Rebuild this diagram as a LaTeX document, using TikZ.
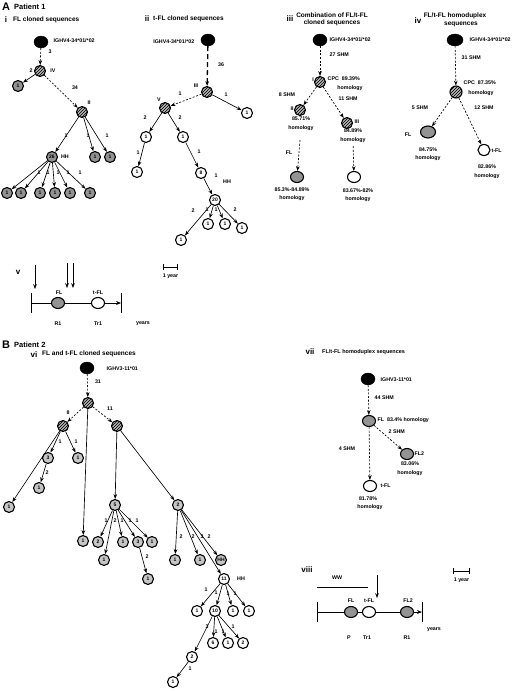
\documentclass[tikz,border=0pt]{standalone}
\usepackage{fontspec}
\setmainfont{Liberation Sans}
\usetikzlibrary{arrows.meta, shapes.geometric, patterns}

\begin{document}
\begin{tikzpicture}[x=1pt, y=-1pt,
		nodo/.style={circle, draw, line width=1.1pt, minimum size=11pt, inner sep=0pt, font=\fontsize{5}{5}\selectfont\bfseries},
		gris/.style={nodo, fill=gray!85},
		grisclaro/.style={nodo, fill=gray!45},
		blanco/.style={nodo, fill=white},
		rayado/.style={nodo, fill=gray!60, postaction={pattern=north east lines}},
		negro/.style={ellipse, draw, fill=black, minimum width=14pt, minimum height=12pt, inner sep=0pt},
		ovalo/.style={ellipse, draw, line width=1.1pt, minimum width=13pt, minimum height=11pt, inner sep=0pt},
		etiq/.style={font=\fontsize{5.3}{6}\selectfont\bfseries, inner sep=0.5pt},
		titulo/.style={font=\fontsize{6.5}{7.5}\selectfont\bfseries, inner sep=0pt, align=center},
		romano/.style={font=\fontsize{8}{9}\selectfont\bfseries, inner sep=0pt},
		letra/.style={font=\fontsize{11}{12}\selectfont\bfseries, inner sep=0pt},
		flecha/.style={-{Stealth[length=4.8pt, width=3.6pt]}, line width=0.65pt},
		discont/.style={flecha, dash pattern=on 2pt off 1.6pt},
		linea/.style={line width=0.9pt}]
	\useasboundingbox (0,0) rectangle (520,691);

	% ---- A: patient 1
	\node[letra, anchor=west] (letA) at (2,7) {A};
	\node[titulo, anchor=west, font=\fontsize{7.5}{8}\selectfont\bfseries] (pac1) at (14,7) {Patient 1};

	% i
	\node[romano] (rI) at (6,20) {i};
	\node[titulo, anchor=west] (tI) at (13,20) {FL cloned sequences};
	\node[negro] (i0) at (41,42) {};
	\node[etiq, anchor=west] (i0t) at (53,41) {IGHV4-34*01/*02};
	\node[rayado] (iIV) at (40,71) {};
	\node[etiq] (iIVt) at (53,71) {IV};
	\node[gris] (i1) at (18,86) {1};
	\node[rayado] (iII) at (82,112) {};
	\node[etiq] (iIIt) at (89,103) {II};
	\node[gris] (iHH) at (52,157) {26};
	\node[etiq] (iHHt) at (65,157) {HH};
	\node[gris] (i2) at (95,157) {1};
	\node[gris] (i3) at (110,157) {1};
	\node[gris] (ib1) at (7,193) {1};
	\node[gris] (ib2) at (21,193) {1};
	\node[gris] (ib3) at (40,193) {1};
	\node[gris] (ib4) at (55,193) {1};
	\node[gris] (ib5) at (70,193) {1};
	\node[gris] (ib6) at (90,193) {1};
	\draw[discont] (i0) -- (iIV);
	\draw[flecha] (iIV) -- (i1);
	\draw[discont] (iIV) -- (iII);
	\draw[flecha] (iII) -- (iHH);
	\draw[flecha] (iII) -- (i2);
	\draw[flecha] (iII) -- (i3);
	\draw[flecha] (iHH) -- (ib1);
	\draw[flecha] (iHH) -- (ib2);
	\draw[flecha] (iHH) -- (ib3);
	\draw[flecha] (iHH) -- (ib4);
	\draw[flecha] (iHH) -- (ib5);
	\draw[flecha] (iHH) -- (ib6);
	\node[etiq] (ie1) at (50,52) {3};
	\node[etiq] (ie2) at (31,71) {2};
	\node[etiq] (ie3) at (75,88) {34};
	\node[etiq] (ie4) at (66,136) {1};
	\node[etiq] (ie5) at (88,136) {1};
	\node[etiq] (ie6) at (107,136) {1};
	\node[etiq] (ie7) at (39,173) {1};
	\node[etiq] (ie8) at (48,173) {1};
	\node[etiq] (ie9) at (58,173) {1};
	\node[etiq] (ie10) at (68,173) {1};
	\node[etiq] (ie11) at (80,173) {1};

	% ii
	\node[romano] (rII) at (147,19) {ii};
	\node[titulo, anchor=west] (tII) at (153,19) {t-FL cloned sequences};
	\node[negro] (ii0) at (208,40) {};
	\node[etiq, anchor=east] (ii0t) at (195,42) {IGHV4-34*01/*02};
	\node[rayado] (iiIII) at (207,92) {};
	\node[etiq] (iiIIIt) at (196,86) {III};
	\node[rayado] (iiV) at (165,108) {};
	\node[etiq] (iiVt) at (159,100) {V};
	\node[blanco] (iia) at (247,113) {1};
	\node[blanco] (iib) at (146,137) {1};
	\node[blanco] (iic) at (183,137) {1};
	\node[blanco] (iid) at (137,172) {1};
	\node[blanco] (ii8) at (201,173) {8};
	\node[blanco] (ii20) at (215,200) {20};
	\node[etiq] (ii20t) at (227,182) {HH};
	\node[blanco] (iie) at (181,240) {1};
	\node[blanco] (iif) at (208,224) {1};
	\node[blanco] (iig) at (225,224) {1};
	\node[blanco] (iih) at (242,228) {1};
	\draw[flecha, line width=1.3pt, dash pattern=on 5pt off 3pt] (ii0) -- (iiIII);
	\draw[discont] (iiIII) -- (iiV);
	\draw[flecha] (iiIII) -- (iia);
	\draw[flecha] (iiV) -- (iib);
	\draw[flecha] (iiV) -- (iic);
	\draw[flecha] (iib) -- (iid);
	\draw[flecha] (iic) -- (ii8);
	\draw[flecha] (ii8) -- (ii20);
	\draw[flecha] (ii20) -- (iie);
	\draw[flecha] (ii20) -- (iif);
	\draw[flecha] (ii20) -- (iig);
	\draw[flecha] (ii20) -- (iih);
	\node[etiq] (iie1) at (221,65) {36};
	\node[etiq] (iie2) at (180,94) {1};
	\node[etiq] (iie3) at (226,95) {1};
	\node[etiq] (iie4) at (145,118) {2};
	\node[etiq] (iie5) at (180,118) {2};
	\node[etiq] (iie6) at (138,153) {1};
	\node[etiq] (iie7) at (199,152) {1};
	\node[etiq] (iie8) at (216,176) {1};
	\node[etiq] (iie9) at (193,211) {2};
	\node[etiq] (iie10) at (207,210) {1};
	\node[etiq] (iie11) at (216,210) {1};
	\node[etiq] (iie12) at (235,210) {2};
	\coordinate (escA1) at (163,267);
	\coordinate (escA2) at (178,267);
	\draw[linea, {Bar[width=6pt]}-{Bar[width=6pt]}] (escA1) -- (escA2);
	\node[etiq] (escAt) at (170.5,276) {1 year};

	% iii
	\node[romano] (rIII) at (290,19) {iii};
	\node[titulo] (tIII) at (332,19.5) {Combination of FL/t-FL\\cloned sequences};
	\node[negro] (iii0) at (320,40) {};
	\node[etiq, anchor=west] (iii0t) at (329,40) {IGHV4-34*01/*02};
	\node[rayado] (iiiI) at (320,82) {};
	\node[etiq] (iiiIt) at (313,80) {I};
	\node[etiq, anchor=west] (iiiCPC) at (327,79) {CPC~~89.39\%};
	\node[etiq] (iiiCPCh) at (350,88) {homology};
	\node[rayado] (iiiII) at (300,110) {};
	\node[etiq] (iiiIIt) at (292,109) {II};
	\node[etiq] (iiiIIp) at (301,119) {85.71\%};
	\node[etiq] (iiiIIh) at (301,128) {homology};
	\node[rayado] (iiiIII) at (347,123) {};
	\node[etiq, anchor=west] (iiiIIIt) at (354,122) {III};
	\node[etiq] (iiiIIIp) at (353,131) {84.89\%};
	\node[etiq] (iiiIIIh) at (353,140) {homology};
	\node[ovalo, fill=gray!85] (iiiFL) at (297,177) {};
	\node[etiq] (iiiFLp) at (292,190) {85.3\%-84.89\%};
	\node[etiq] (iiiFLh) at (292,198) {homology};
	\node[ovalo, fill=white] (iiiT) at (354,177) {};
	\node[etiq] (iiiTp) at (358,191) {83.67\%-82\%};
	\node[etiq] (iiiTh) at (358,199) {homology};
	\draw[discont] (iii0) -- (iiiI);
	\draw[discont] (iiiI) -- (iiiII);
	\draw[discont] (iiiI) -- (iiiIII);
	\draw[discont, shorten <=9pt] (iiiIIh) -- (iiiFL);
	\draw[discont, shorten <=3pt] (iiiIIIh) -- (iiiT);
	\node[etiq, anchor=west] (iiie1) at (329,55) {27 SHM};
	\node[etiq] (iiie2) at (287,95) {8 SHM};
	\node[etiq, anchor=west] (iiie3) at (338,99) {11 SHM};
	\node[etiq] (iiie4) at (289,153) {FL};

	% iv
	\node[romano] (rIV) at (418,21) {iv};
	\node[titulo] (tIV) at (455,20) {FL/t-FL homoduplex\\\hspace*{12pt}sequences};
	\node[negro, minimum width=16pt] (iv0) at (455,40) {};
	\node[etiq, anchor=west] (iv0t) at (469,40) {IGHV4-34*01/*02};
	\node[rayado, minimum size=12pt] (ivCPC) at (456,92) {};
	\node[etiq, anchor=west] (ivCPCt) at (463,83) {CPC~~87.35\%};
	\node[etiq] (ivCPCh) at (481,93) {homology};
	\node[ovalo, fill=gray!85, minimum width=15pt, minimum height=12pt] (ivFL) at (428,132) {};
	\node[etiq] (ivFLt) at (408,135) {FL};
	\node[etiq] (ivFLp) at (428,150) {84.75\%};
	\node[etiq] (ivFLh) at (428,158) {homology};
	\node[ovalo, fill=white, minimum width=12pt] (ivT) at (484,150) {};
	\node[etiq, anchor=west] (ivTt) at (491,151) {t-FL};
	\node[etiq] (ivTp) at (487,167) {82.86\%};
	\node[etiq] (ivTh) at (487,176) {homology};
	\draw[discont] (iv0) -- (ivCPC);
	\draw[discont] (ivCPC) -- (ivFL);
	\draw[discont] (ivCPC) -- (ivT);
	\node[etiq, anchor=west] (ive1) at (461,58) {31 SHM};
	\node[etiq] (ive2) at (420,108) {5 SHM};
	\node[etiq] (ive3) at (484,108) {12 SHM};

	% v
	\node[romano] (rV) at (18,272) {v};
	\coordinate (vF1a) at (35,265);
	\coordinate (vF1b) at (35,289);
	\coordinate (vF2a) at (67,263);
	\coordinate (vF2b) at (67,288);
	\coordinate (vF3a) at (73,263);
	\coordinate (vF3b) at (73,288);
	\draw[flecha] (vF1a) -- (vF1b);
	\draw[flecha] (vF2a) -- (vF2b);
	\draw[flecha] (vF3a) -- (vF3b);
	\coordinate (vIni) at (31,303);
	\coordinate (vFin) at (121,303);
	\node[ovalo, fill=gray!85] (vFL) at (58,303) {};
	\node[ovalo, fill=white] (vT) at (98,303) {};
	\draw[linea] ([yshift=10pt]vIni) -- ([yshift=-10pt]vIni);
	\draw[linea] ([yshift=10pt]vFin) -- ([yshift=-10pt]vFin);
	\draw[linea] (vIni) -- (vFL) -- (vT);
	\draw[linea, -{Stealth[length=5pt, width=4pt]}] (vT) -- (vFin);
	\node[etiq] (vFLt) at (59,293) {FL};
	\node[etiq] (vTt) at (98,293) {t-FL};
	\node[etiq] (vR1) at (58,324) {R1};
	\node[etiq] (vTr1) at (98,324) {Tr1};
	\node[etiq] (vyr) at (143,324) {years};

	% ---- B: patient 2
	\node[letra, anchor=west] (letB) at (2,345) {B};
	\node[titulo, anchor=west, font=\fontsize{7.5}{8}\selectfont\bfseries] (pac2) at (14,345) {Patient 2};

	% vi
	\node[romano] (rVI) at (34,355) {vi};
	\node[titulo, anchor=west] (tVI) at (42,354) {FL and t-FL cloned sequences};
	\node[negro] (vi0) at (87,368) {};
	\node[etiq, anchor=west] (vi0t) at (106,369) {IGHV3-11*01};
	\node[rayado] (viA) at (88,403) {};
	\node[rayado] (viB) at (63,426) {};
	\node[rayado] (viC) at (117,426) {};
	\node[grisclaro] (viD) at (83,541) {1};
	\node[grisclaro] (viB1) at (9,507) {1};
	\node[grisclaro] (viB2) at (48,458) {3};
	\node[grisclaro] (viB3) at (78,458) {1};
	\node[grisclaro] (viB4) at (39,488) {1};
	\node[grisclaro] (vi5) at (115,505) {5};
	\node[grisclaro] (vi5a) at (98,542) {2};
	\node[grisclaro] (vi5b) at (104,560) {1};
	\node[grisclaro] (vi5c) at (123,542) {1};
	\node[grisclaro] (vi5d) at (138,542) {3};
	\node[grisclaro] (vi5e) at (152,542) {1};
	\node[grisclaro] (vi5f) at (148,579) {1};
	\node[grisclaro] (vi2) at (178,505) {2};
	\node[grisclaro] (vi2a) at (175,560) {1};
	\node[grisclaro] (vi2b) at (200,560) {1};
	\node[grisclaro] (vi2c) at (221,560) {HH};
	\node[blanco] (vi11) at (224,579) {11};
	\node[etiq] (vi11t) at (241,579) {HH};
	\node[blanco] (vi11a) at (197,611) {1};
	\node[blanco] (vi10) at (215,611) {10};
	\node[blanco] (vi11b) at (233,611) {1};
	\node[blanco] (vi11c) at (249,611) {1};
	\node[blanco] (vi10a) at (192,657) {2};
	\node[blanco] (vi10b) at (213,643) {6};
	\node[blanco] (vi10c) at (228,643) {1};
	\node[blanco] (vi10d) at (243,643) {2};
	\node[blanco] (vi10e) at (173,682) {1};
	\draw[discont] (vi0) -- (viA);
	\draw[discont] (viA) -- (viB);
	\draw[discont] (viA) -- (viC);
	\draw[flecha] (viA) -- (viD);
	\draw[flecha] (viB) -- (viB1);
	\draw[flecha] (viB) -- (viB2);
	\draw[flecha] (viB) -- (viB3);
	\draw[flecha] (viB2) -- (viB4);
	\draw[flecha] (viC) -- (vi5);
	\draw[flecha] (viC) -- (vi2);
	\draw[flecha] (vi5) -- (vi5a);
	\draw[flecha] (vi5) -- (vi5b);
	\draw[flecha] (vi5) -- (vi5c);
	\draw[flecha] (vi5) -- (vi5d);
	\draw[flecha] (vi5) -- (vi5e);
	\draw[flecha] (vi5d) -- (vi5f);
	\draw[flecha] (vi2) -- (vi2a);
	\draw[flecha] (vi2) -- (vi2b);
	\draw[flecha] (vi2) -- (vi2c);
	\draw[flecha] (vi2) -- (vi11);
	\draw[flecha] (vi11) -- (vi11a);
	\draw[flecha] (vi11) -- (vi10);
	\draw[flecha] (vi11) -- (vi11b);
	\draw[flecha] (vi11) -- (vi11c);
	\draw[flecha] (vi10) -- (vi10a);
	\draw[flecha] (vi10) -- (vi10b);
	\draw[flecha] (vi10) -- (vi10c);
	\draw[flecha] (vi10) -- (vi10d);
	\draw[flecha] (vi10a) -- (vi10e);
	\node[etiq] (vie1) at (98,382) {31};
	\node[etiq] (vie2) at (68,413) {8};
	\node[etiq] (vie3) at (110,409) {11};
	\node[etiq] (vie4) at (60,442) {1};
	\node[etiq] (vie5) at (76,442) {1};
	\node[etiq] (vie6) at (47,473) {2};
	\node[etiq] (vie7) at (106,521) {1};
	\node[etiq] (vie8) at (115,521) {2};
	\node[etiq] (vie9) at (122,521) {1};
	\node[etiq] (vie10) at (130,521) {1};
	\node[etiq] (vie11) at (137,521) {1};
	\node[etiq] (vie12) at (147,557) {2};
	\node[etiq] (vie13) at (181,537) {2};
	\node[etiq] (vie14) at (193,537) {2};
	\node[etiq] (vie15) at (202,537) {3};
	\node[etiq] (vie16) at (209,537) {2};
	\node[etiq] (vie17) at (206,590) {1};
	\node[etiq] (vie18) at (216,593) {1};
	\node[etiq] (vie19) at (228,594) {1};
	\node[etiq] (vie20) at (235,594) {1};
	\node[etiq] (vie21) at (207,627) {3};
	\node[etiq] (vie22) at (216,632) {1};
	\node[etiq] (vie23) at (223,632) {1};
	\node[etiq] (vie24) at (233,627) {1};
	\node[etiq] (vie25) at (190,669) {1};

	% vii
	\node[romano] (rVII) at (310,352) {vii};
	\node[titulo, anchor=west, font=\fontsize{5.5}{6}\selectfont\bfseries] (tVII) at (322,352) {FL/t-FL homoduplex sequences};
	\node[negro] (vii0) at (368,379) {};
	\node[etiq, anchor=west] (vii0t) at (380,380) {IGHV3-11*01};
	\node[ovalo, fill=gray!85] (viiFL) at (369,421) {};
	\node[etiq, anchor=west] (viiFLt) at (377,420) {FL~~83.4\% homology};
	\node[ovalo, fill=gray!85] (viiFL2) at (407,454) {};
	\node[etiq, anchor=west] (viiFL2t) at (414,454) {FL2};
	\node[etiq] (viiFL2p) at (410,464) {83.06\%};
	\node[etiq] (viiFL2h) at (410,473) {homology};
	\node[ovalo, fill=white] (viiT) at (370,486) {};
	\node[etiq, anchor=west] (viiTt) at (380,486) {t-FL};
	\node[etiq] (viiTp) at (368,499) {81.78\%};
	\node[etiq] (viiTh) at (370,507) {homology};
	\draw[discont] (vii0) -- (viiFL);
	\draw[discont] (viiFL) -- (viiFL2);
	\draw[discont] (viiFL) -- (viiT);
	\node[etiq, anchor=west] (viie1) at (374,398) {44 SHM};
	\node[etiq, anchor=west] (viie2) at (388,432) {2 SHM};
	\node[etiq] (viie3) at (347,449) {4 SHM};

	% viii
	\node[romano] (rVIII) at (307,570) {viii};
	\coordinate (escB1) at (453,571);
	\coordinate (escB2) at (470,571);
	\draw[linea, {Bar[width=6pt]}-{Bar[width=6pt]}] (escB1) -- (escB2);
	\node[etiq] (escBt) at (461.5,580) {1 year};
	\node[etiq] (viiiWW) at (337,578) {WW};
	\coordinate (ww1) at (317,587);
	\coordinate (ww2) at (368,587);
	\draw[linea] (ww1) -- (ww2);
	\coordinate (viiiFa) at (377,575);
	\coordinate (viiiFb) at (377,598);
	\draw[flecha] (viiiFa) -- (viiiFb);
	\coordinate (viiiIni) at (317,612);
	\coordinate (viiiFin) at (422,612);
	\node[ovalo, fill=gray!85] (viiiFL) at (351,612) {};
	\node[ovalo, fill=white] (viiiT) at (369,612) {};
	\node[ovalo, fill=gray!85] (viiiFL2) at (407,612) {};
	\draw[linea] ([yshift=10pt]viiiIni) -- ([yshift=-10pt]viiiIni);
	\draw[linea] ([yshift=10pt]viiiFin) -- ([yshift=-10pt]viiiFin);
	\draw[linea] (viiiIni) -- (viiiFL) -- (viiiT) -- (viiiFL2);
	\draw[linea, -{Stealth[length=5pt, width=4pt]}] (viiiFL2) -- (viiiFin);
	\node[etiq] (viiiFLt) at (351,601) {FL};
	\node[etiq] (viiiTt) at (369,601) {t-FL};
	\node[etiq] (viiiFL2t) at (408,601) {FL2};
	\node[etiq] (viiiP) at (349,638) {P};
	\node[etiq] (viiiTr1) at (367,638) {Tr1};
	\node[etiq] (viiiR1) at (407,638) {R1};
	\node[etiq] (viiiyr) at (434,630) {years};
\end{tikzpicture}
\end{document}
